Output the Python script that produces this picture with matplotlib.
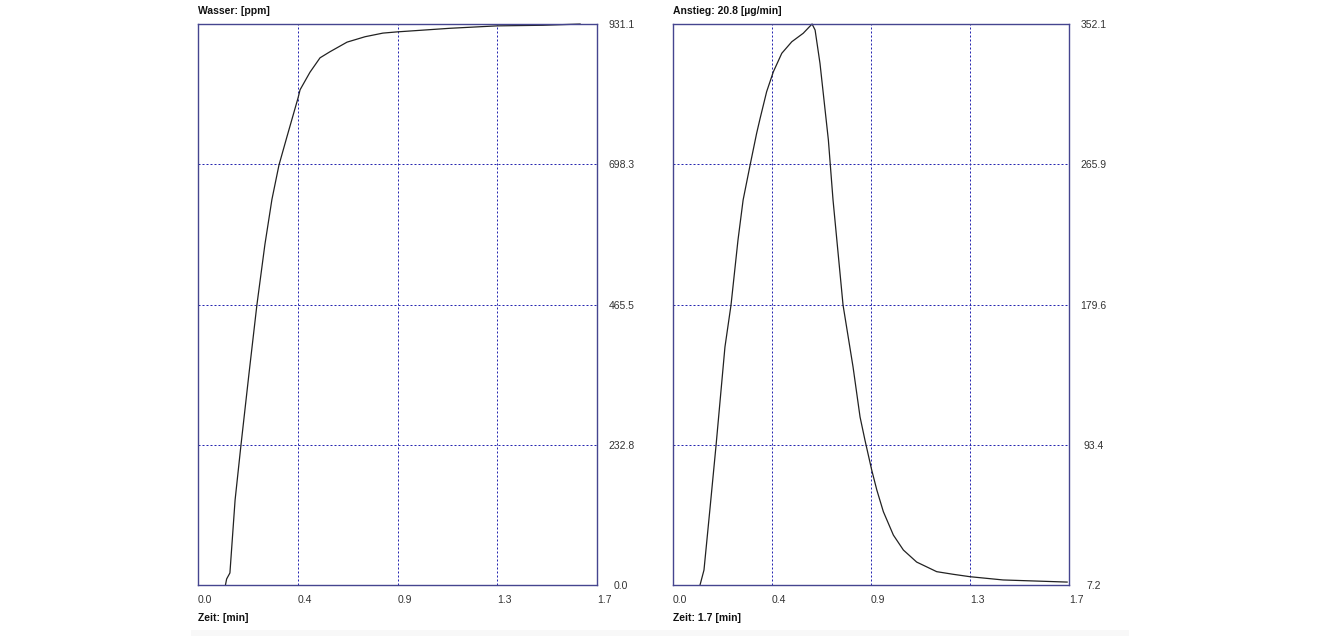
import numpy as np
import matplotlib
matplotlib.use("Agg")
import matplotlib.pyplot as plt
from matplotlib.patches import Rectangle

plt.rcParams['font.family'] = ['Liberation Sans', 'DejaVu Sans']

# Wasser [ppm] over Zeit [min]
t_w = [0.117, 0.122, 0.136, 0.158, 0.183, 0.217, 0.251, 0.285, 0.315, 0.345,
       0.379, 0.426, 0.435, 0.477, 0.520, 0.562, 0.635, 0.712, 0.788, 0.848,
       1.074, 1.274, 1.470, 1.628]
wasser = [0.0, 10, 20, 141, 232, 350, 465, 565, 640, 697,
          744, 808, 822, 851, 875, 885, 901, 910, 916, 918,
          924, 928, 929, 931]

# Anstieg [ug/min] over Zeit [min]
t_a = [0.116, 0.133, 0.159, 0.185, 0.223, 0.249, 0.279, 0.301, 0.331, 0.359,
       0.374, 0.402, 0.431, 0.467, 0.510, 0.559, 0.597, 0.610, 0.631, 0.667,
       0.687, 0.730, 0.773, 0.803, 0.824, 0.853, 0.875, 0.903, 0.946, 0.989,
       1.046, 1.132, 1.202, 1.275, 1.417, 1.692]
anstieg = [7.2, 16.4, 54.5, 93.3, 153.5, 179.3, 219.3, 243.9, 265.4, 284.9,
           294.1, 310.5, 322.8, 334.1, 341.2, 346.4, 352.1, 348.4, 327.9, 280.8,
           243.9, 179.3, 141.2, 110.5, 96.3, 77.9, 65.6, 52.3, 37.9, 28.7,
           21.3, 15.4, 13.8, 12.3, 10.3, 9.0]

x_ticks = [0.0, 0.425, 0.85, 1.275, 1.7]
x_labels = ['0.0', '0.4', '0.9', '1.3', '1.7']
y_left = [0.0, 232.8, 465.5, 698.3, 931.1]
y_right = [7.2, 93.4, 179.6, 265.9, 352.1]

frame_c = '#45458f'
grid_c = '#2626b0'
txt_c = '#333333'

fig = plt.figure(figsize=(13.2, 6.36), dpi=100)
fig.patches.append(Rectangle((0.145, 0.0), 0.71, 0.009, transform=fig.transFigure,
                             facecolor='#f8f8f8', edgecolor='none', zorder=0))

ax1 = fig.add_axes([198/1320, 51/636, 399/1320, 561/636])
ax2 = fig.add_axes([673/1320, 51/636, 396/1320, 561/636])


def style(ax, yt, title, xlabel):
    ax.set_xlim(0, 1.7)
    ax.set_ylim(yt[0], yt[-1])
    ax.set_xticks(x_ticks)
    ax.set_xticklabels(x_labels, ha='left')
    ax.set_yticks(yt)
    ax.set_yticklabels(['%.1f' % v for v in yt], ha='center')
    ax.yaxis.tick_right()
    ax.tick_params(axis='x', length=0, pad=7, labelsize=7.5, labelcolor=txt_c)
    ax.tick_params(axis='y', length=0, pad=17.5, labelsize=7.5, labelcolor=txt_c)
    ax.grid(True, color=grid_c, linestyle=(0, (2, 2)), linewidth=0.72)
    for s in ax.spines.values():
        s.set_color(frame_c)
        s.set_linewidth(1.0)
    ax.set_title(title, loc='left', fontsize=7.5, fontweight='bold', pad=7, color='#111111')
    ax.annotate(xlabel, xy=(0, 0), xycoords='axes fraction', xytext=(0, -24),
                textcoords='offset points', va='center', ha='left',
                fontsize=7.5, fontweight='bold', color='#111111')


ax1.plot(t_w, wasser, color='#222222', linewidth=0.9, clip_on=False)
style(ax1, y_left, 'Wasser: [ppm]', 'Zeit: [min]')

ax2.plot(t_a, anstieg, color='#222222', linewidth=0.9, clip_on=False)
style(ax2, y_right, 'Anstieg: 20.8 [\u00b5g/min]', 'Zeit: 1.7 [min]')

fig.savefig('out.png', dpi=100)
